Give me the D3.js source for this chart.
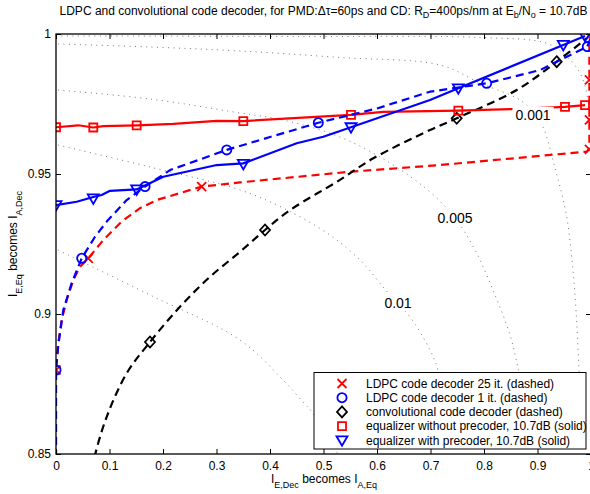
<!DOCTYPE html>
<html><head><meta charset="utf-8">
<script src="https://cdn.jsdelivr.net/npm/d3@7"></script>
<style>
body{margin:0;background:#fff}
svg{display:block}
text{font-family:"Liberation Sans",Arial,Helvetica,sans-serif;fill:#000}
</style>
</head><body>
<svg id="chart" width="590" height="494"></svg>
<script>
// ---------- data ----------
const xTicks = [0,0.1,0.2,0.3,0.4,0.5,0.6,0.7,0.8,0.9,1];
const xTickLabels = ["0","0.1","0.2","0.3","0.4","0.5","0.6","0.7","0.8","0.9","1"];
const yTicks = [0.85,0.9,0.95,1];
const yTickLabels = ["0.85","0.9","0.95","1"];

// LDPC code decoder 25 it. (red dashed, x markers)
const ldpc25X = [0,0,0.0037,0.0107,0.02,0.0323,0.0449,0.0604,0.0884,0.1228,0.157,0.1882,0.2723,0.3439,0.5495,0.7178,0.992,0.997,0.997,0.997,0.997];
const ldpc25Y = [0.83,0.88,0.8889,0.8979,0.905,0.9121,0.9169,0.9199,0.9264,0.933,0.9378,0.9407,0.9455,0.947,0.9508,0.9532,0.958,0.9592,0.9693,0.9836,1.0];
const ldpc25MX = [0,0.0604,0.2723,0.997,0.997,0.997];
const ldpc25MY = [0.88,0.9199,0.9455,0.9588,0.9693,0.9836];

// LDPC code decoder 1 it. (blue dashed, circles)
const ldpc1X = [0,0,0.0043,0.0136,0.0293,0.048,0.0729,0.0948,0.1321,0.1664,0.2131,0.3191,0.4,0.4903,0.6,0.6991,0.805,0.9047,0.9931,1.0];
const ldpc1Y = [0.83,0.88,0.8889,0.9014,0.911,0.9199,0.9276,0.933,0.9407,0.9455,0.9514,0.9586,0.9632,0.9683,0.9734,0.9794,0.9824,0.9871,0.9955,0.9989];
const ldpc1MX = [0,0.048,0.1664,0.3191,0.4903,0.805,0.9931];
const ldpc1MY = [0.88,0.9199,0.9455,0.9586,0.9683,0.9824,0.9955];

// convolutional code decoder (black dashed, diamonds)
const convX = [0.0673,0.0729,0.0948,0.1321,0.1757,0.2318,0.2879,0.3439,0.3907,0.4374,0.5308,0.5931,0.6991,0.749,0.8611,0.9359,0.992];
const convY = [0.8443,0.8496,0.8633,0.8788,0.89,0.9026,0.9133,0.9222,0.93,0.9371,0.9479,0.9556,0.9657,0.9699,0.98,0.9901,0.9985];
const convMX = [0.1757,0.3907,0.749,0.9359];
const convMY = [0.89,0.93,0.9699,0.9901];

// equalizer without precoder (red solid, squares)
const eqNoPreX = [0,0.0417,0.0697,0.0884,0.1508,0.2193,0.3004,0.3501,0.5514,0.6112,0.752,0.8523,0.9514,0.9888];
const eqNoPreY = [0.9667,0.9674,0.9666,0.9671,0.9674,0.9679,0.969,0.9689,0.9711,0.9722,0.9726,0.9732,0.974,0.9746];
const eqNoPreMX = [0,0.0697,0.1508,0.3501,0.5514,0.752,0.9514,0.9888];
const eqNoPreMY = [0.9667,0.9666,0.9674,0.9689,0.9711,0.9726,0.974,0.9746];

// equalizer with precoder (blue solid, down triangles)
const eqPreX = [0,0.0387,0.0697,0.0854,0.1009,0.1508,0.2006,0.3004,0.3501,0.4499,0.4996,0.5514,0.6991,0.752,0.9482,0.9888];
const eqPreY = [0.9389,0.9401,0.9418,0.9425,0.944,0.9445,0.949,0.9532,0.9538,0.961,0.9633,0.9667,0.9764,0.9806,0.9961,0.9993];
const eqPreMX = [0,0.0697,0.1508,0.3501,0.5514,0.752,0.9482,0.9888];
const eqPreMY = [0.9389,0.9413,0.9445,0.9536,0.9667,0.9806,0.9961,0.9993];

// BER contours (grey dotted)
const c0X = [0,0.456,0.7925,0.9178,0.9514,0.9794,0.9944,1.0];
const c0Y = [0.9993,0.9991,0.99875,0.99668,0.9925,0.98607,0.97643,0.96];
const c1X = [0.0037,0.1757,0.3439,0.5308,0.7178,0.7925,0.8673,0.8916,0.9103,0.9327,0.9533,0.9645,0.972,0.9776,0.982];
const c1Y = [0.99643,0.99536,0.99393,0.99161,0.98893,0.9825,0.97643,0.97214,0.96679,0.95214,0.93607,0.91929,0.90143,0.88,0.86];
const c2X = [0.0037,0.1757,0.3439,0.4243,0.5308,0.6243,0.6991,0.7458,0.7832,0.8206,0.8486,0.8636,0.875];
const c2Y = [0.98,0.97679,0.97179,0.96929,0.96321,0.95393,0.94357,0.93429,0.92286,0.90679,0.8925,0.88071,0.87];
const c3X = [0.0037,0.1757,0.3439,0.4243,0.5121,0.5738,0.6112,0.6374,0.6617,0.6991,0.714,0.725];
const c3Y = [0.96036,0.9525,0.94429,0.93786,0.92821,0.91821,0.90964,0.90393,0.89893,0.88714,0.88,0.87];
const c4X = [0.0037,0.1757,0.3439,0.4243,0.4617,0.4785,0.5121,0.5271];
const c4Y = [0.92286,0.90679,0.89071,0.87643,0.86857,0.865,0.855,0.85];
const contourLabels = ["0.001","0.005","0.01"];
const contourLabelX = [0.8916,0.7458,0.6393];
const contourLabelY = [0.9711,0.9343,0.9039];

const legendLabels = [
  "LDPC code decoder 25 it. (dashed)",
  "LDPC code decoder 1 it. (dashed)",
  "convolutional code decoder (dashed)",
  "equalizer without precoder, 10.7dB (solid)",
  "equalizer with precoder, 10.7dB (solid)"
];

// ---------- drawing ----------
(function(){
const svg = d3.select("#chart");
const L = 56, R = 591, T = 34, B = 454;
const x = d3.scaleLinear().domain([0,1]).range([L,R]);
const y = d3.scaleLinear().domain([0.85,1]).range([B,T]);

svg.append("defs").append("clipPath").attr("id","clip")
  .append("rect").attr("x",L).attr("y",T).attr("width",R-L).attr("height",B-T);

const plot = svg.append("g").attr("clip-path","url(#clip)");

const zip = (xs,ys) => xs.map((v,i)=>[v,ys[i]]);
const lineGen = d3.line().x(d=>x(d[0])).y(d=>y(d[1]));
const smooth = d3.line().x(d=>x(d[0])).y(d=>y(d[1])).curve(d3.curveCatmullRom.alpha(0.5));

// contours
[[c0X,c0Y],[c1X,c1Y],[c2X,c2Y],[c3X,c3Y],[c4X,c4Y]].forEach(([xs,ys])=>{
  plot.append("path").attr("d",smooth(zip(xs,ys)))
    .attr("fill","none").attr("stroke","#777").attr("stroke-width",1)
    .attr("stroke-dasharray","1,4.5");
});

const markerPaths = {
  x: "M-4.5,-4.5L4.5,4.5M-4.5,4.5L4.5,-4.5",
  circle: "M4.6,0A4.6,4.6,0,1,1,-4.6,0A4.6,4.6,0,1,1,4.6,0Z",
  diamond: "M0,-5.5L5,0L0,5.5L-5,0Z",
  square: "M-4,-4H4V4H-4Z",
  tri: "M-5.5,-4H5.5L0,5.5Z"
};

const series = [
  {xs:ldpc25X, ys:ldpc25Y, mx:ldpc25MX, my:ldpc25MY, color:"#ff0000", dash:"8,5", m:"x", sm:false},
  {xs:convX, ys:convY, mx:convMX, my:convMY, color:"#000000", dash:"8,5", m:"diamond", sm:true},
  {xs:eqNoPreX, ys:eqNoPreY, mx:eqNoPreMX, my:eqNoPreMY, color:"#ff0000", dash:null, m:"square", sm:false},
  {xs:ldpc1X, ys:ldpc1Y, mx:ldpc1MX, my:ldpc1MY, color:"#0000ff", dash:"8,5", m:"circle", sm:false},
  {xs:eqPreX, ys:eqPreY, mx:eqPreMX, my:eqPreMY, color:"#0000ff", dash:null, m:"tri", sm:false}
];

series.forEach(s=>{
  const p = plot.append("path").attr("d",(s.sm?smooth:lineGen)(zip(s.xs,s.ys)))
    .attr("fill","none").attr("stroke",s.color).attr("stroke-width",2.2)
    .attr("stroke-linejoin","round");
  if (s.dash) p.attr("stroke-dasharray",s.dash);
  plot.selectAll(null).data(zip(s.mx,s.my)).enter().append("path")
    .attr("d",markerPaths[s.m])
    .attr("transform",d=>`translate(${x(d[0])},${y(d[1])})`)
    .attr("fill","none").attr("stroke",s.color).attr("stroke-width",1.8);
});

// contour labels with white backing
contourLabels.forEach((t,i)=>{
  const g = plot.append("g");
  const tx = g.append("text").attr("x",x(contourLabelX[i])).attr("y",y(contourLabelY[i])+5)
    .attr("text-anchor","middle").attr("font-size",14).text(t);
  const bb = tx.node().getBBox();
  g.insert("rect","text").attr("x",bb.x-3).attr("y",bb.y).attr("width",bb.width+6).attr("height",bb.height)
    .attr("fill","#fff");
});

// axes
const axG = svg.append("g");
axG.append("g").attr("transform",`translate(0,${B})`)
  .call(d3.axisBottom(x).tickValues(xTicks).tickFormat((d,i)=>xTickLabels[i]).tickSize(-5).tickPadding(7));
axG.append("g").attr("transform",`translate(0,${T})`)
  .call(d3.axisTop(x).tickValues(xTicks).tickFormat("").tickSize(-5));
axG.append("g").attr("transform",`translate(${L},0)`)
  .call(d3.axisLeft(y).tickValues(yTicks).tickFormat((d,i)=>yTickLabels[i]).tickSize(-5).tickPadding(5));
axG.append("g").attr("transform",`translate(${R},0)`)
  .call(d3.axisRight(y).tickValues(yTicks).tickFormat("").tickSize(-5));
axG.selectAll(".domain").remove();
axG.selectAll(".tick line").attr("stroke","#000").attr("stroke-width",1);
axG.selectAll(".tick text").attr("font-size",12).attr("font-family","'Liberation Sans',Arial,sans-serif").attr("fill","#000");
axG.append("rect").attr("x",L).attr("y",T).attr("width",R-L).attr("height",B-T)
  .attr("fill","none").attr("stroke","#000").attr("stroke-width",1.3);

// title
const title = svg.append("text").attr("x",(L+R)/2).attr("y",15).attr("text-anchor","middle").attr("font-size",12);
title.append("tspan").text("LDPC and convolutional code decoder, for PMD:\u0394\u03c4=60ps and CD: R");
title.append("tspan").attr("dy",3).attr("font-size",9).text("D");
title.append("tspan").attr("dy",-3).text("=400ps/nm at E");
title.append("tspan").attr("dy",3).attr("font-size",9).text("b");
title.append("tspan").attr("dy",-3).text("/N");
title.append("tspan").attr("dy",3).attr("font-size",9).text("o");
title.append("tspan").attr("dy",-3).text(" = 10.7dB");

// x label
const xl = svg.append("text").attr("x",324).attr("y",483).attr("text-anchor","middle").attr("font-size",12);
xl.append("tspan").text("I");
xl.append("tspan").attr("dy",5).attr("font-size",9).text("E,Dec");
xl.append("tspan").attr("dy",-5).text(" becomes I");
xl.append("tspan").attr("dy",5).attr("font-size",9).text("A,Eq");

// y label
const yl = svg.append("text").attr("transform","translate(17,244) rotate(-90)").attr("text-anchor","middle").attr("font-size",12);
yl.append("tspan").text("I");
yl.append("tspan").attr("dy",5).attr("font-size",9).text("E,Eq");
yl.append("tspan").attr("dy",-5).text(" becomes I");
yl.append("tspan").attr("dy",5).attr("font-size",9).text("A,Dec");

// legend
const lg = svg.append("g");
lg.append("rect").attr("x",314).attr("y",372.5).attr("width",272).attr("height",76.5)
  .attr("fill","#fff").attr("stroke","#000").attr("stroke-width",1);
const legM = ["x","circle","diamond","square","tri"];
const legC = ["#ff0000","#0000ff","#000000","#ff0000","#0000ff"];
legendLabels.forEach((t,i)=>{
  const cy = 383.5 + i*14.2;
  lg.append("path").attr("d",markerPaths[legM[i]]).attr("transform",`translate(342,${cy})`)
    .attr("fill","none").attr("stroke",legC[i]).attr("stroke-width",1.8);
  lg.append("text").attr("x",366).attr("y",cy+4.3).attr("font-size",12).text(t);
});
})();
</script>
</body></html>
